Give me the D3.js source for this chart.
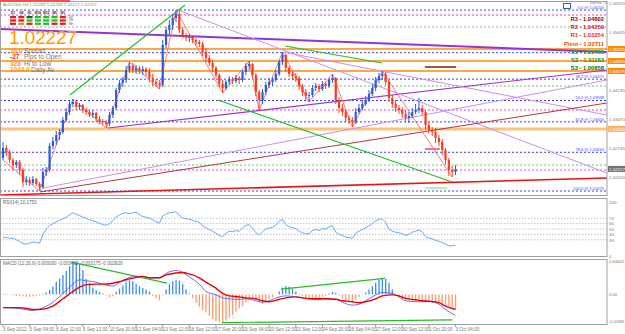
<!DOCTYPE html>
<html><head><meta charset="utf-8">
<script src="https://cdn.jsdelivr.net/npm/d3@7"></script>
<style>body{margin:0;background:#fff;}svg{display:block;font-family:"Liberation Sans",Arial,sans-serif;}</style>
</head><body><svg id="c" width="625" height="334"></svg>
<script>
// ---------- DATA ----------
const open=[1.0250,1.0275,1.0265,1.0245,1.02325,1.0240,1.0220,1.0190,1.0195,1.01875,1.01975,1.0185,1.01775,1.0215,1.0220,1.0280,1.02925,1.03075,1.0315,1.0345,1.0365,1.0385,1.0390,1.03775,1.03825,1.0370,1.0365,1.03575,1.03625,1.03475,1.03425,1.0340,1.0335,1.03575,1.0375,1.0420,1.04375,1.0445,1.0470,1.0480,1.0470,1.0475,1.04675,1.04725,1.0465,1.0450,1.0440,1.0435,1.04325,1.05325,1.0570,1.05825,1.0600,1.0610,1.0570,1.05575,1.0550,1.05525,1.0545,1.0540,1.0535,1.0515,1.0500,1.04875,1.0475,1.04575,1.0435,1.0425,1.0440,1.04475,1.04425,1.0450,1.0445,1.0465,1.0480,1.0485,1.04575,1.0415,1.0395,1.0415,1.04325,1.0440,1.0445,1.0460,1.0490,1.05075,1.0475,1.0460,1.0455,1.0450,1.0430,1.0415,1.0405,1.04075,1.0425,1.0430,1.04225,1.0435,1.0430,1.0445,1.0450,1.0395,1.0375,1.0365,1.0350,1.0345,1.0340,1.0365,1.0375,1.0385,1.0395,1.0410,1.0425,1.0445,1.0455,1.0460,1.0440,1.0400,1.0385,1.0375,1.0370,1.0360,1.0350,1.0355,1.0365,1.0370,1.0375,1.0365,1.03325,1.0320,1.0315,1.0300,1.0290,1.0270,1.0245,1.0220,1.0215];
const high=[1.0290,1.02825,1.0270,1.0250,1.0245,1.0245,1.0225,1.0205,1.02025,1.0205,1.0200,1.0190,1.0225,1.02275,1.02875,1.03025,1.03175,1.03225,1.03525,1.0375,1.0395,1.03975,1.03925,1.03875,1.0385,1.0375,1.0370,1.0370,1.0365,1.0355,1.03475,1.0345,1.0365,1.0380,1.0425,1.0445,1.04525,1.0480,1.0490,1.04875,1.04825,1.0480,1.0480,1.04775,1.0475,1.0460,1.04475,1.0445,1.0545,1.05775,1.0595,1.0610,1.0620,1.06175,1.05775,1.05625,1.0560,1.05575,1.0550,1.0545,1.0540,1.0525,1.05075,1.0495,1.0480,1.04625,1.0445,1.0445,1.0455,1.04525,1.04575,1.0455,1.0470,1.04875,1.04925,1.04875,1.04625,1.0420,1.04225,1.0440,1.0450,1.04525,1.0470,1.0495,1.0515,1.0510,1.0480,1.04675,1.04625,1.0455,1.0435,1.04225,1.0415,1.04325,1.04375,1.0435,1.04425,1.0440,1.0450,1.0460,1.04525,1.04025,1.0385,1.0370,1.03575,1.03525,1.0375,1.0385,1.0395,1.0405,1.0420,1.0435,1.04525,1.04625,1.04675,1.0465,1.0445,1.04075,1.0395,1.03825,1.03775,1.0370,1.0365,1.0375,1.0385,1.0400,1.03825,1.0370,1.0340,1.03275,1.0325,1.03075,1.02975,1.0275,1.0250,1.0230,1.02325];
const low=[1.0245,1.0255,1.02375,1.0220,1.0225,1.02075,1.01775,1.01825,1.0180,1.01825,1.0180,1.01675,1.01725,1.0205,1.0215,1.02725,1.02825,1.0295,1.0310,1.0340,1.03575,1.03775,1.0370,1.0370,1.03625,1.03575,1.03525,1.0350,1.0340,1.0335,1.03325,1.0325,1.0330,1.0350,1.0370,1.04125,1.04275,1.04375,1.04625,1.04625,1.0460,1.0460,1.04575,1.0455,1.0440,1.0430,1.04275,1.04225,1.04275,1.0525,1.05575,1.0570,1.0590,1.05625,1.0550,1.05425,1.0540,1.05375,1.05325,1.05275,1.0505,1.0490,1.0480,1.0465,1.0450,1.04275,1.04125,1.0420,1.04325,1.0435,1.04375,1.0435,1.0440,1.04575,1.0470,1.0450,1.0405,1.0370,1.0385,1.04075,1.0425,1.0430,1.0440,1.0455,1.04825,1.0465,1.04525,1.0445,1.0440,1.0420,1.0405,1.0395,1.0390,1.04025,1.04175,1.0415,1.04175,1.04225,1.0425,1.04375,1.0385,1.03625,1.0355,1.0340,1.0335,1.03275,1.0335,1.0360,1.0370,1.0380,1.0390,1.0405,1.04175,1.04375,1.0445,1.04325,1.0390,1.0375,1.0365,1.0360,1.0350,1.0340,1.03375,1.0350,1.0360,1.03625,1.03575,1.0320,1.0310,1.0305,1.02875,1.0280,1.02575,1.0235,1.0205,1.02025,1.02075];
const close=[1.0275,1.0265,1.0245,1.02325,1.0240,1.0220,1.0190,1.0195,1.01875,1.01975,1.0185,1.01775,1.0215,1.0220,1.0280,1.02925,1.03075,1.0315,1.0345,1.0365,1.0385,1.0390,1.03775,1.03825,1.0370,1.0365,1.03575,1.03625,1.03475,1.03425,1.0340,1.0335,1.03575,1.0375,1.0420,1.04375,1.0445,1.0470,1.0480,1.0470,1.0475,1.04675,1.04725,1.0465,1.0450,1.0440,1.0435,1.04325,1.05325,1.0570,1.05825,1.0600,1.0610,1.0570,1.05575,1.0550,1.05525,1.0545,1.0540,1.0535,1.0515,1.0500,1.04875,1.0475,1.04575,1.0435,1.0425,1.0440,1.04475,1.04425,1.0450,1.0445,1.0465,1.0480,1.0485,1.04575,1.0415,1.0395,1.0415,1.04325,1.0440,1.0445,1.0460,1.0490,1.05075,1.0475,1.0460,1.0455,1.0450,1.0430,1.0415,1.0405,1.04075,1.0425,1.0430,1.04225,1.0435,1.0430,1.0445,1.0450,1.0395,1.0375,1.0365,1.0350,1.0345,1.0340,1.0365,1.0375,1.0385,1.0395,1.0410,1.0425,1.0445,1.0455,1.0460,1.0440,1.0400,1.0385,1.0375,1.0370,1.0360,1.0350,1.0355,1.0365,1.0370,1.0375,1.0365,1.03325,1.0320,1.0315,1.0300,1.0290,1.0270,1.0245,1.0220,1.0215,1.02227];
const rsi=[35,34,33,33,30,27,23,22,24,26,25,24,40,50,56,60,63,66,69,72,76,80,77,75,72,70,67,65,63,61,58,57,60,65,72,76,79,80,78,80,81,77,73,72,70,67,63,61,74,78,80,81,82,75,71,69,68,66,64,62,56,52,49,46,42,38,36,42,46,45,47,46,52,57,58,52,43,39,45,50,52,53,57,64,68,58,54,52,51,46,43,41,42,47,49,47,51,50,54,56,44,40,38,35,34,33,42,46,49,52,56,60,65,68,69,62,50,46,44,43,41,38,40,44,46,48,45,36,33,32,29,27,25,22,19,19,20.175];
const macdHist=[0.0001,0.0001,-0.0001,-0.0002,-0.0003,-0.0003,-0.0004,-0.0005,-0.0005,-0.0004,-0.0003,-0.0002,0.0001,0.0004,0.0009,0.0016,0.0026,0.0032,0.0040,0.0048,0.0058,0.0064,0.0066,0.0062,0.0050,0.0032,0.0024,0.0014,0.0009,0.0005,0.0002,-0.0002,-0.0006,-0.0004,0.0005,0.0012,0.0018,0.0025,0.0029,0.0027,0.0022,0.0017,0.0013,0.0010,0.0006,-0.0003,-0.0008,-0.0012,-0.0002,0.0010,0.0021,0.0027,0.0029,0.0028,0.0021,0.0010,0.0002,-0.0008,-0.0017,-0.0025,-0.0032,-0.0037,-0.0044,-0.0050,-0.0055,-0.0057,-0.0058,-0.0054,-0.0048,-0.0042,-0.0035,-0.0029,-0.0024,-0.0016,-0.0012,-0.0008,-0.0010,-0.0016,-0.0020,-0.0016,-0.0010,-0.0006,-0.0001,0.0006,0.0014,0.0017,0.0016,0.0012,0.0006,0.0001,-0.0003,-0.0006,-0.0008,-0.0009,-0.0009,-0.0007,-0.0005,-0.0003,0.0002,0.0005,0.0003,-0.0002,-0.0008,-0.0013,-0.0016,-0.0015,-0.0011,-0.0006,-0.0001,0.0004,0.0010,0.0017,0.0024,0.0030,0.0032,0.0032,0.0024,0.0010,0.0000,-0.0006,-0.0010,-0.0012,-0.0013,-0.0013,-0.0013,-0.0013,-0.0014,-0.0014,-0.0015,-0.0016,-0.0016,-0.0018,-0.0019,-0.0022,-0.0024,-0.0027,-0.0030];
const macdIdx=[0,5,9,11,15,18,21,23,25,28,30,33,35,37,40,42,44,47,49,52,54,56,59,61,64,66,68,71,73,76,78,80,83,85,88,90,93,95,97,100,102,105,107,109,112,114,117,119,121,124,126,128,131,133,136];
const macdMain=[-0.0027,-0.0029,-0.0033,-0.0030,-0.0016,0.0002,0.0021,0.0030,0.0028,0.0025,0.0021,0.0017,0.0025,0.0032,0.0037,0.0037,0.0034,0.0034,0.0043,0.0049,0.0045,0.0036,0.0021,0.0006,-0.0001,-0.0007,-0.0009,-0.0010,-0.0009,-0.0013,-0.0016,-0.0013,-0.0005,-0.0003,-0.0005,-0.0007,-0.0010,-0.0010,-0.0009,-0.0010,-0.0016,-0.0022,-0.0020,-0.0013,-0.0001,0.0004,0.0002,-0.0005,-0.0013,-0.0015,-0.0015,-0.0015,-0.0020,-0.0031,-0.0043];
const macdSignal=[-0.0027,-0.0027,-0.0031,-0.0031,-0.0024,-0.0009,0.0006,0.0015,0.0020,0.0021,0.0021,0.0023,0.0026,0.0030,0.0035,0.0037,0.0034,0.0034,0.0040,0.0044,0.0045,0.0042,0.0034,0.0025,0.0013,0.0002,-0.0003,-0.0005,-0.0007,-0.0009,-0.0013,-0.0015,-0.0010,-0.0007,-0.0005,-0.0007,-0.0009,-0.0009,-0.0009,-0.0010,-0.0013,-0.0015,-0.0017,-0.0015,-0.0009,-0.0003,-0.0001,-0.0003,-0.0008,-0.0011,-0.0013,-0.0014,-0.0017,-0.0024,-0.0031];
const dateLabels=["3 Sep 2012","5 Sep 04:00","6 Sep 12:00","9 Sep 12:00","10 Sep 20:00","12 Sep 04:00","13 Sep 12:00","16 Sep 12:00","17 Sep 20:00","19 Sep 04:00","20 Sep 12:00","23 Sep 12:00","24 Sep 20:00","26 Sep 04:00","27 Sep 12:00","30 Sep 12:00","1 Oct 20:00","3 Oct 04:00"];
const priceTicks=[1.06370,1.05645,1.04920,1.04195,1.03470,1.02745,1.02020];
const zigzag=[[0,1.0245],[11,1.01675],[21,1.03975],[31,1.0325],[38,1.0490],[47,1.04225],[52,1.0620],[66,1.04125],[74,1.04925],[77,1.0370],[84,1.0515],[92,1.0390],[99,1.0460],[105,1.03275],[114,1.04675],[135,1.02025]];
const fibLevels=[0,23.6,38.2,50,61.8,78.6,100];
const fibHigh=1.0620, fibLow=1.01675;
const pivots=[["R3",1.04802,"#990000"],["R2",1.04259,"#d0103a"],["R1",1.03254,"#ee1c3c"],["Pivot",1.02711,"#ff3c00"],["S1",1.01786,"#3aa000"],["S2",1.01163,"#1e8c00"],["S3",1.00858,"#0a6a00"]];
const extraLevels=[[1.06075,"#e040e0"],[1.03700,"#e040e0"],[1.02200,"#e040e0"],[1.05775,"#a0a0a0"],[1.04300,"#70c070"],[1.02325,"#70c070"]];
const orangeLevels=[1.05225,1.04925,1.04675];
const trendLines=[
 [-1,1.05725,182,1.0515,"#9933cc",2],
 [31.6,1.0325,181.5,1.0470,"#9933cc",1.2],
 [52.6,1.0620,181.5,1.02125,"#c890ea",1],
 [84.2,1.0515,181.5,1.03575,"#c890ea",1],
 [12,1.0175,181.5,1.0445,"#c890ea",1],
 [11.1,1.0165,181.5,1.03875,"#b03838",1],
 [-1,1.01575,181.5,1.0200,"#ee1111",1.6],
 [20.1,1.04075,54.7,1.06325,"#22c022",1.2],
 [84.8,1.0530,113.9,1.04875,"#22c022",1.2],
 [64.6,1.0395,135,1.0190,"#22c022",1.2],
 [126.8,1.0175,133.5,1.0175,"#90dd90",1.2],
 [126.8,1.04775,136.2,1.04775,"#7a2020",1.5],
 [126.8,1.02725,131.3,1.02725,"#ee2222",1.2]
];
const macdGreen=[[20.5,0.0066,49.3,0.0023],[83.6,0.0011,114.8,0.0033],[65.8,-0.0058,135,-0.0052]];
const rsiLevels=[70,60,50,40,30];

// ---------- DRAW ----------
const svg=d3.select("#c");
const R=607;
const P={main:[1,196],rsi:[198,257],macd:[259,325]};
const x=d3.scaleLinear().domain([0,136]).range([3,455.5]);
const y=d3.scaleLinear().domain([1.0155,1.0645]).range([196,0]);
const yr=d3.scaleLinear().domain([0,100]).range([256,202]);
const ym=d3.scaleLinear().domain([-0.00586,0.006642]).range([323,262]);
const n=close.length;
const defs=svg.append("defs");
Object.entries(P).forEach(([k,[t,b]])=>{defs.append("clipPath").attr("id","clip-"+k).append("rect").attr("x",0).attr("y",t).attr("width",R).attr("height",b-t);});
svg.append("rect").attr("width",625).attr("height",334).attr("fill","#fff");

const gm=svg.append("g").attr("clip-path","url(#clip-main)");
const dotted=(g,p,col,w=1,dash="2,2")=>g.append("line").attr("x1",0).attr("x2",R).attr("y1",y(p)).attr("y2",y(p)).attr("stroke",col).attr("stroke-width",w).attr("stroke-dasharray",dash);
fibLevels.forEach(l=>dotted(gm,fibHigh-(fibHigh-fibLow)*l/100,"#3c3cff"));
extraLevels.forEach(([p,c])=>dotted(gm,p,c));
orangeLevels.forEach(p=>dotted(gm,p,"#ff8a00",1.4,null));
dotted(gm,1.03225,"#ffc27a",3,null);
trendLines.forEach(([i1,p1,i2,p2,c,w])=>gm.append("line").attr("x1",x(i1)).attr("y1",y(p1)).attr("x2",x(i2)).attr("y2",y(p2)).attr("stroke",c).attr("stroke-width",w));
gm.append("path").attr("d",d3.line().x(d=>x(d[0])).y(d=>y(d[1]))(zigzag)).attr("fill","none").attr("stroke","#ff6a6a").attr("stroke-width",0.9);
const cg=gm.append("g");
d3.range(n).forEach(i=>{
 const up=close[i]>=open[i];const col=up?"#2a5ee0":"#ff3b1c";
 cg.append("line").attr("x1",x(i)).attr("x2",x(i)).attr("y1",y(high[i])).attr("y2",y(low[i])).attr("stroke",col).attr("stroke-width",1);
 const t=y(Math.max(open[i],close[i])),b=y(Math.min(open[i],close[i]));
 cg.append("rect").attr("x",x(i)-1.1).attr("width",2.2).attr("y",t).attr("height",Math.max(0.8,b-t)).attr("fill",col);
});

// RSI
const gr=svg.append("g").attr("clip-path","url(#clip-rsi)");
rsiLevels.forEach(l=>gr.append("line").attr("x1",0).attr("x2",R).attr("y1",yr(l)).attr("y2",yr(l)).attr("stroke","#b8b8b8").attr("stroke-dasharray","1.5,1.5").attr("stroke-width",0.8));
gr.append("path").attr("d",d3.line().x((d,i)=>x(i)).y(d=>yr(d))(rsi)).attr("fill","none").attr("stroke","#6aaaf0").attr("stroke-width",1);

// MACD
const gc=svg.append("g").attr("clip-path","url(#clip-macd)");
macdHist.forEach((v,i)=>gc.append("rect").attr("x",x(i)-0.6).attr("width",1.3).attr("y",Math.min(ym(v),ym(0))).attr("height",Math.max(0.5,Math.abs(ym(v)-ym(0)))).attr("fill",v>=0?"#3a8cf0":"#ff9a6a"));
macdGreen.forEach(([i1,v1,i2,v2])=>gc.append("line").attr("x1",x(i1)).attr("y1",ym(v1)).attr("x2",x(i2)).attr("y2",ym(v2)).attr("stroke","#22c022").attr("stroke-width",1.2));
const lm=d3.line().curve(d3.curveMonotoneX).x((d,k)=>x(macdIdx[k])).y(d=>ym(d));
gc.append("path").attr("d",lm(macdMain)).attr("fill","none").attr("stroke","#5060ff").attr("stroke-width",0.9);
gc.append("path").attr("d",lm(macdSignal)).attr("fill","none").attr("stroke","#ee0000").attr("stroke-width",1.4);

Object.values(P).forEach(([t,b])=>svg.append("rect").attr("x",0.5).attr("y",t+0.5).attr("width",R-0.5).attr("height",b-t-1).attr("fill","none").attr("stroke","#a0a0a0"));

const tx=(xx,yy,s,fs,col,anchor="start",w="normal")=>svg.append("text").attr("x",xx).attr("y",yy).attr("font-size",fs).attr("fill",col).attr("text-anchor",anchor).attr("font-weight",w).text(s);
priceTicks.forEach(p=>tx(609,y(p)+1.8,p.toFixed(5),4.4,"#777"));
const box=(p,fill,txt,tc)=>{svg.append("rect").attr("x",608).attr("y",y(p)-3).attr("width",17).attr("height",6).attr("fill",fill);tx(609,y(p)+1.8,txt,4.4,tc);};
orangeLevels.forEach(p=>box(p,"#ff8a00",p.toFixed(5),"#fff"));
box(1.03225,"#ffb060",(1.03225).toFixed(5),"#fff");
box(close[n-1],"#707070",close[n-1].toFixed(5),"#fff");
fibLevels.filter(l=>l!==23.6).forEach(l=>{const p=fibHigh-(fibHigh-fibLow)*l/100;tx(604,y(p)-1.2,l.toFixed(1)+" @ "+p.toFixed(5),4,"#3c3cff","end");});
pivots.forEach(([nm,v,c],k)=>tx(604,21+k*8.2,nm+" - "+v.toFixed(5),5.8,c,"end","bold"));
[100,70,60,50,40,30,0].forEach(l=>tx(609,yr(l)+1.8,String(l),4.4,"#777"));
tx(3,204,"RSI(14) 20.1750",4.6,"#666");
const tfit=(xx,yy,s)=>tx(xx,yy,s,4.2,"#777").attr("textLength",15).attr("lengthAdjust","spacingAndGlyphs");
tfit(609,263,"0.006642");tx(609,ym(0)+1.8,"0.00",4.2,"#777");tfit(609,323,"-0.00586");
tx(3,265,"MACD (12,26,9) 0.000000 -0.003462 -0.003175 -0.002829",4.6,"#666");
dateLabels.forEach((s,k)=>{const xx=x(k*8);svg.append("line").attr("x1",xx).attr("x2",xx).attr("y1",325).attr("y2",327).attr("stroke","#999");tx(xx,331,s,4.6,"#777");});

svg.append("rect").attr("x",0).attr("y",0).attr("width",70).attr("height",2).attr("fill","#ff4a4a");
tx(3,6,"AUDUSD,H4  1.02249 1.02263 1.02227 1.02227",4.4,"#888");
const tf=["D1","H4","H1","M30","M15","M5","M1"];
const tcol=[["#e02020","#e02020","#e02020"],["#e02020","#e02020","#ff8800"],["#0a6a00","#20c020","#e02020"],["#20c020","#20c020","#20c020"],["#20c020","#20c020","#20c020"],["#20c020","#20c020","#e02020"],["#e02020","#e02020","#e02020"]];
tf.forEach((t,k)=>{const xx=10+k*8.3;tx(xx+3,14,t,3.4,"#333","middle","bold");tcol[k].forEach((c,r)=>svg.append("rect").attr("x",xx).attr("y",16+r*3.3).attr("width",6).attr("height",2.3).attr("fill",c));});
["Dh","Wh","Mh"].forEach((t,r)=>tx(69,18+r*3.3,t,3,"#555"));
tx(9,43.5,"1.02227",18.5,"#ff9a00").attr("textLength",68).attr("lengthAdjust","spacingAndGlyphs");
tx(10,52.5,"16.0",6.5,"#ff9a00","start","bold");tx(24,52.5,"Spread",6.5,"#777");
tx(10,59,"-27",6.5,"#ff2020","start","bold");tx(24,59,"Pips to Open",6.5,"#777");
tx(10,65.5,"328",6.5,"#ff9a00","start","bold");tx(24,65.5,"Hi to Low",6.5,"#777");
tx(10,72,"1044.0",6.5,"#ff9a00","start","bold");tx(31,72,"Daily Av",6.5,"#777");
svg.append("rect").attr("x",563.5).attr("y",3.5).attr("width",7).attr("height",5).attr("fill","none").attr("stroke","#3060c0");
tx(590,4,"MyFibo_v1",3.6,"#888");
</script></body></html>
